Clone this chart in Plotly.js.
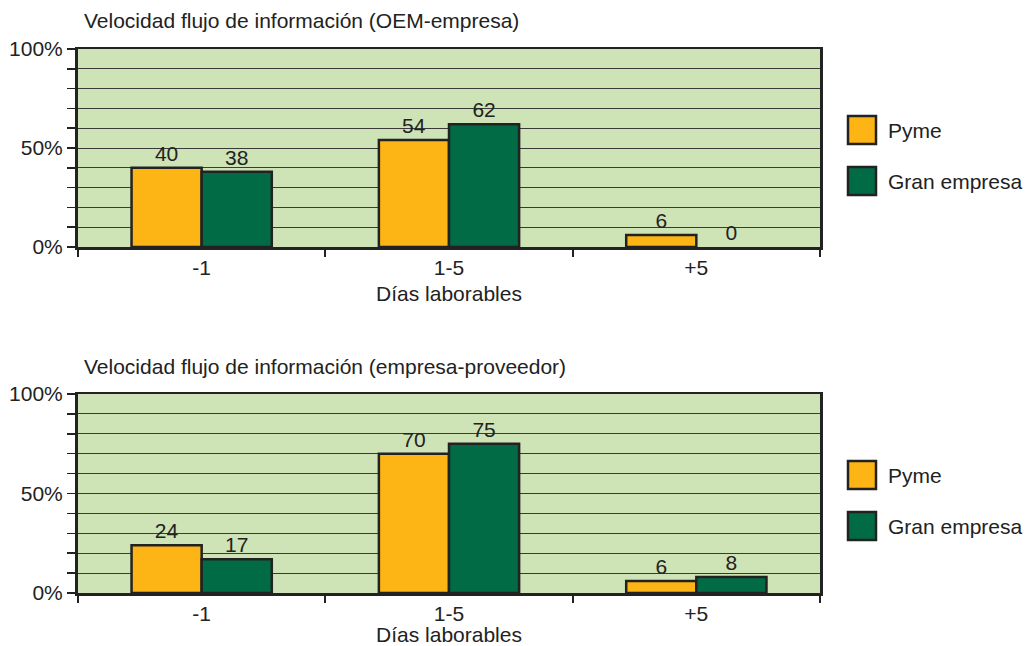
<!DOCTYPE html>
<html>
<head>
<meta charset="utf-8">
<script src="https://cdn.plot.ly/plotly-3.0.1.min.js"></script>
<style>html,body{margin:0;padding:0;background:#fff}#chart{width:1027px;height:646px}</style>
</head>
<body>
<div id="chart"></div>
<script>
const categories = ['-1', '1-5', '+5'];
const seriesNames = ['Pyme', 'Gran empresa'];
const titleTop = 'Velocidad flujo de información (OEM-empresa)';
const titleBottom = 'Velocidad flujo de información (empresa-proveedor)';
const xTitle = 'Días laborables';
const pymeTop = [40, 54, 6];
const granTop = [38, 62, 0];
const pymeBottom = [24, 70, 6];
const granBottom = [17, 75, 8];
const yTickVals = [0, 10, 20, 30, 40, 50, 60, 70, 80, 90, 100];
const yTickText = ['0%', '', '', '', '', '50%', '', '', '', '', '100%'];

const W = 1027, H = 646;
const mL = 78, mR = 207, mT = 49, mB = 53;
const pw = W - mL - mR, ph = H - mT - mB;
const px = x => (x - mL) / pw;
const py = y => (H - mB - y) / ph;

const colors = ['#FDB515', '#006B45'];
const FONT = 'Liberation Sans, Arial, sans-serif';
const FS = 21;

function bar(name, vals, idx, xa, ya) {
  return {
    type: 'bar', name: name, x: categories, y: vals, xaxis: xa, yaxis: ya,
    marker: {color: colors[idx], line: {color: '#222', width: vals.map(v => v === 0 ? 0 : 2.5)}},
    text: vals.map(String), textposition: 'outside', cliponaxis: false,
    textfont: {family: FONT, size: FS, color: '#222'},
    showlegend: false, hoverinfo: 'skip'
  };
}

const data = [
  bar(seriesNames[0], pymeTop, 0, 'x', 'y'),
  bar(seriesNames[1], granTop, 1, 'x', 'y'),
  bar(seriesNames[0], pymeBottom, 0, 'x2', 'y2'),
  bar(seriesNames[1], granBottom, 1, 'x2', 'y2')
];

function xax(anchor) {
  return {
    type: 'category', anchor: anchor, domain: [0, 1],
    tickson: 'boundaries', ticks: 'outside', ticklen: 7, tickwidth: 2, tickcolor: '#222',
    showline: true, linecolor: '#222', linewidth: 2.5, mirror: true,
    showgrid: false, zeroline: false,
    tickfont: {family: FONT, size: FS, color: '#222'},
    title: {text: xTitle, font: {family: FONT, size: FS, color: '#222'}, standoff: 9},
    fixedrange: true
  };
}
function yax(anchor, domain) {
  return {
    anchor: anchor, domain: domain, range: [0, 100],
    tickmode: 'array', tickvals: yTickVals, ticktext: yTickText,
    ticks: 'outside', ticklen: 8, tickwidth: 1.5, tickcolor: '#222',
    showline: true, linecolor: '#222', linewidth: 3, mirror: true,
    showgrid: true, gridcolor: '#3a3a3a', gridwidth: 1, zeroline: false,
    tickfont: {family: FONT, size: FS, color: '#222'},
    fixedrange: true
  };
}

const shapes = [];
const annotations = [
  {xref: 'paper', yref: 'paper', x: px(82), y: py(20), xanchor: 'left', yanchor: 'middle', showarrow: false,
   text: titleTop, font: {family: FONT, size: FS, color: '#222'}},
  {xref: 'paper', yref: 'paper', x: px(82), y: py(367), xanchor: 'left', yanchor: 'middle', showarrow: false,
   text: titleBottom, font: {family: FONT, size: FS, color: '#222'}}
];
const legendRows = [[130, 181], [475, 526]];
legendRows.forEach(rows => {
  rows.forEach((cy, i) => {
    shapes.push({type: 'rect', xref: 'paper', yref: 'paper', x0: px(848), x1: px(876), y0: py(cy + 14), y1: py(cy - 14),
      fillcolor: colors[i], line: {color: '#222', width: 2.5}});
    annotations.push({xref: 'paper', yref: 'paper', x: px(886), y: py(cy), xanchor: 'left', yanchor: 'middle',
      showarrow: false, text: seriesNames[i], font: {family: FONT, size: FS, color: '#222'}});
  });
});

const layout = {
  width: W, height: H,
  margin: {l: mL, r: mR, t: mT, b: mB},
  paper_bgcolor: '#ffffff', plot_bgcolor: '#CEE3B6',
  barmode: 'group', bargap: 0.433, bargroupgap: 0,
  showlegend: false,
  xaxis: xax('y'),
  yaxis: yax('x', [py(247), 1]),
  xaxis2: xax('y2'),
  yaxis2: yax('x2', [0, py(394)]),
  shapes: shapes, annotations: annotations
};

Plotly.newPlot('chart', data, layout, {staticPlot: true, displayModeBar: false});
</script>
</body>
</html>
